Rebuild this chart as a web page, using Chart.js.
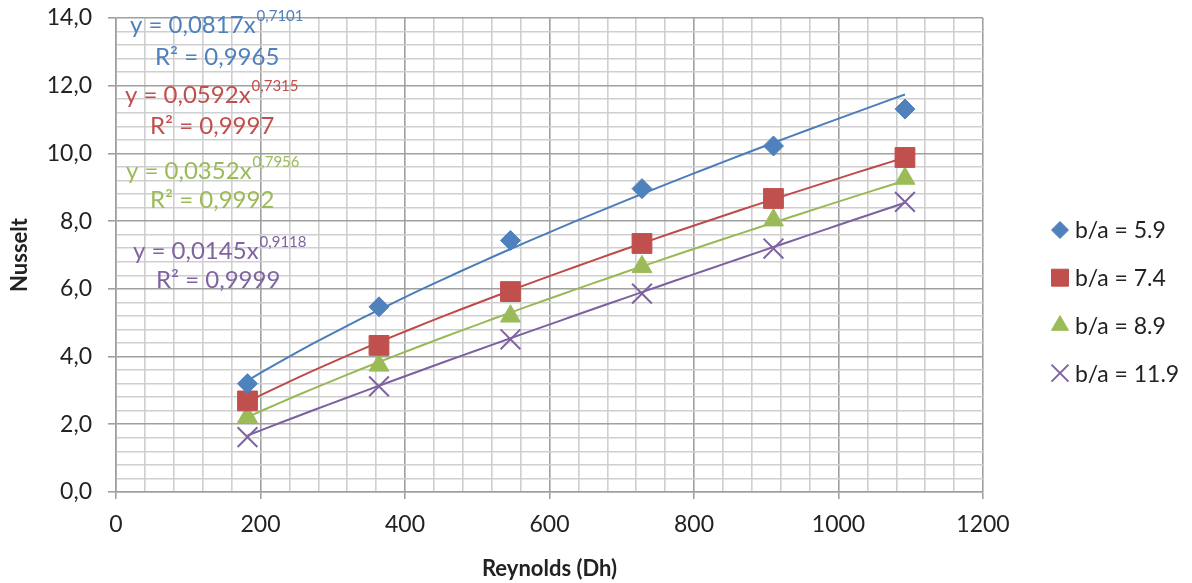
<!DOCTYPE html>
<html>
<head>
<meta charset="utf-8">
<script src="https://cdn.jsdelivr.net/npm/chart.js@4"></script>
<style>
html,body{margin:0;padding:0;background:#fff;}
#wrap{width:1192px;height:583px;position:relative;}
</style>
</head>
<body>
<div id="wrap"><canvas id="c" width="1192" height="583"></canvas></div>
<script>
// ---- data ----
const reynolds = [182, 364, 546, 728, 910, 1092];
const seriesLabels = ['b/a = 5.9', 'b/a = 7.4', 'b/a = 8.9', 'b/a = 11.9'];
const nuBA59  = [3.20, 5.47, 7.43, 8.96, 10.22, 11.31];
const nuBA74  = [2.69, 4.33, 5.92, 7.34, 8.67, 9.88];
const nuBA89  = [2.22, 3.74, 5.19, 6.65, 8.03, 9.26];
const nuBA119 = [1.62, 3.12, 4.51, 5.86, 7.19, 8.57];
// power trendlines y = a * x^b as printed on the chart
const trendA = [0.0817, 0.0592, 0.0352, 0.0145];
const trendB = [0.7101, 0.7315, 0.7956, 0.9118];
const trendR2 = ['0,9965', '0,9997', '0,9992', '0,9999'];
const trendAText = ['0,0817', '0,0592', '0,0352', '0,0145'];
const trendBText = ['0,7101', '0,7315', '0,7956', '0,9118'];
const xTickMax = 1200, yTickMax = 14;

// ---- styles ----
const colors = ['#4F81BD', '#C0504D', '#9BBB59', '#8064A2'];
const lineColors = ['#4A7EBB', '#BE4B48', '#98B954', '#7D60A0'];
const styles = ['rectRot', 'rect', 'triangle', 'crossRot'];
const radii = [10, 14, 11.5, 14];
const FONT = 'Lato, "Open Sans", sans-serif';

const series = [nuBA59, nuBA74, nuBA89, nuBA119];
const datasets = [];
series.forEach((vals, i) => {
  datasets.push({
    label: seriesLabels[i],
    data: reynolds.map((x, k) => ({x, y: vals[k]})),
    showLine: false,
    pointStyle: styles[i],
    pointRadius: radii[i],
    pointHoverRadius: radii[i],
    backgroundColor: colors[i],
    borderColor: colors[i],
    pointBorderWidth: i === 3 ? 2 : 1
  });
});
series.forEach((vals, i) => {
  const pts = [];
  const x0 = reynolds[0], x1 = reynolds[reynolds.length - 1];
  const n = 40;
  for (let k = 0; k <= n; k++) {
    const x = x0 + (x1 - x0) * k / n;
    pts.push({x, y: trendA[i] * Math.pow(x, trendB[i])});
  }
  datasets.push({
    label: 'trend ' + seriesLabels[i],
    data: pts,
    showLine: true,
    pointRadius: 0,
    borderColor: lineColors[i],
    borderWidth: 2,
    fill: false,
    tension: 0
  });
});

const isMajor = (v, step) => Math.abs(v / step - Math.round(v / step)) < 1e-6;

const eqPlugin = {
  id: 'equations',
  afterDatasetsDraw(chart) {
    const ctx = chart.ctx;
    const pos = [
      {ex: 130, ey: 25, rx: 155, ry: 57},
      {ex: 125, ey: 95, rx: 150, ry: 126},
      {ex: 126, ey: 171, rx: 150, ry: 200},
      {ex: 133, ey: 251, rx: 156, ry: 280}
    ];
    ctx.save();
    ctx.textBaseline = 'middle';
    ctx.textAlign = 'left';
    pos.forEach((p, i) => {
      ctx.fillStyle = colors[i];
      ctx.font = '24px ' + FONT;
      const main = 'y = ' + trendAText[i] + 'x';
      ctx.fillText(main, p.ex, p.ey);
      const w = ctx.measureText(main).width;
      ctx.font = '15px ' + FONT;
      ctx.fillText(trendBText[i], p.ex + w + 1, p.ey - 9);
      ctx.font = '24px ' + FONT;
      ctx.fillText('R\u00B2 = ' + trendR2[i], p.rx, p.ry);
    });
    ctx.restore();
  }
};

const legendPlugin = {
  id: 'sideLegend',
  afterDraw(chart) {
    const ctx = chart.ctx;
    const lr = [8.5, 12, 9.8, 12];
    ctx.save();
    for (let i = 0; i < 4; i++) {
      const y = 230 + i * 47.7;
      ctx.fillStyle = colors[i];
      ctx.strokeStyle = colors[i];
      ctx.lineWidth = i === 3 ? 2 : 1;
      Chart.helpers.drawPoint(ctx, {pointStyle: styles[i], radius: lr[i], rotation: 0, borderWidth: ctx.lineWidth}, 1060, y);
      ctx.fillStyle = '#222';
      ctx.font = '23px ' + FONT;
      ctx.textBaseline = 'middle';
      ctx.textAlign = 'left';
      ctx.fillText(chart.data.datasets[i].label, 1075, y + 1);
    }
    ctx.restore();
  }
};

new Chart(document.getElementById('c'), {
  type: 'scatter',
  data: {datasets},
  options: {
    responsive: false,
    animation: false,
    devicePixelRatio: 1,
    layout: {padding: {left: 0, top: 18, right: 209, bottom: 0}},
    plugins: {legend: {display: false}, tooltip: {enabled: false}},
    scales: {
      x: {
        type: 'linear', min: 0, max: xTickMax,
        afterFit(s) { s.height = 91; s.paddingLeft = 0; s.paddingRight = 0; },
        ticks: {
          stepSize: 40, autoSkip: false, maxRotation: 0,
          font: {family: FONT, size: 23}, color: '#222', padding: 12,
          callback: v => isMajor(v, 200) ? String(Math.round(v)) : ''
        },
        grid: {
          color: c => isMajor(c.tick.value, 200) ? '#a0a0a0' : '#cfcfcf',
          tickColor: c => isMajor(c.tick.value, 200) ? '#a0a0a0' : 'rgba(0,0,0,0)',
          lineWidth: 1.6, tickLength: 7
        },
        border: {color: '#a0a0a0', width: 1.6},
        title: {display: true, text: 'Reynolds (Dh)', font: {family: FONT, size: 22, weight: 'bold'}, color: '#222', padding: {top: 0, bottom: 1}}
      },
      y: {
        type: 'linear', min: 0, max: yTickMax,
        afterFit(s) { s.width = 116; s.paddingTop = 0; s.paddingBottom = 0; },
        ticks: {
          stepSize: 0.4, autoSkip: false,
          font: {family: FONT, size: 23}, color: '#222', padding: 16,
          callback: v => isMajor(v, 2) ? v.toFixed(1).replace('.', ',') : ''
        },
        grid: {
          color: c => isMajor(c.tick.value, 2) ? '#a0a0a0' : '#cfcfcf',
          tickColor: c => isMajor(c.tick.value, 2) ? '#a0a0a0' : 'rgba(0,0,0,0)',
          lineWidth: 1.6, tickLength: 8
        },
        border: {color: '#a0a0a0', width: 1.6},
        title: {display: true, text: 'Nusselt', font: {family: FONT, size: 22, weight: 'bold'}, color: '#222', padding: {top: 7, bottom: 0}}
      }
    }
  },
  plugins: [eqPlugin, legendPlugin]
});
</script>
</body>
</html>
